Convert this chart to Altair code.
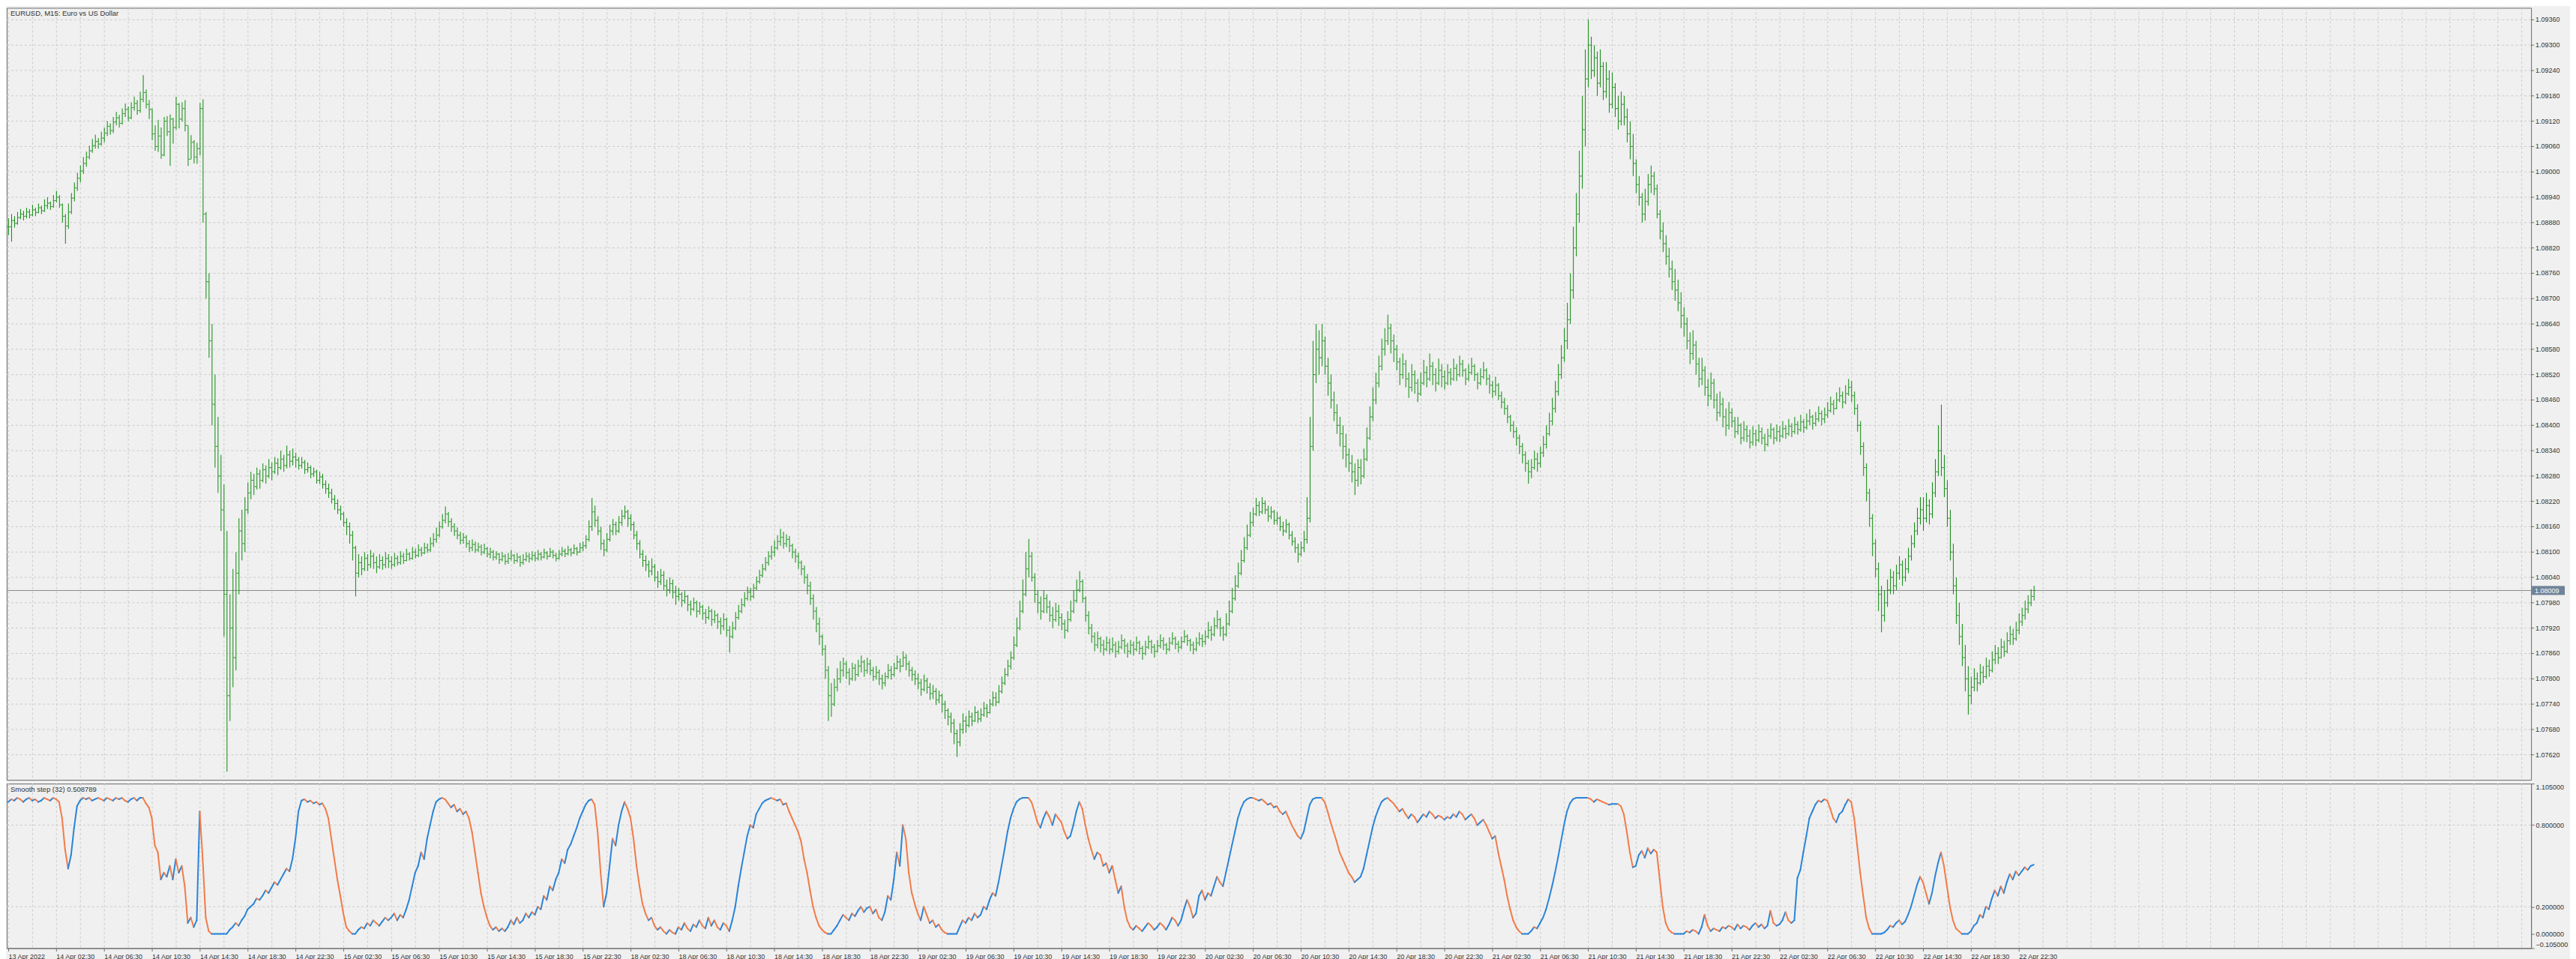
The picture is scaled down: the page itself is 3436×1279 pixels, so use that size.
import json
import altair as alt
import pandas as pd

# ---------------- data ----------------
# EURUSD M15 bars from 13 Apr 2022 22:30; prices in points (1e-5) above 1.07000
BASE = 1.07
CLOSE_PTS = [
1870,1885,1878,1892,1900,1895,1905,1898,1910,1904,1915,1908,1920,1926,1918,1932,
1940,1922,1895,1872,1905,1938,1962,1985,2002,2020,2035,2050,2062,2072,2066,2080,
2092,2108,2098,2118,2128,2115,2138,2148,2128,2152,2162,2145,2172,2188,2160,2148,
2090,2060,2085,2040,2120,2095,2125,2105,2160,2125,2150,2110,2030,2070,2035,2055,
2150,1900,1740,1600,1450,1350,1280,1200,1000,760,920,850,1050,1150,1120,1200,
1240,1270,1255,1285,1270,1295,1280,1300,1290,1310,1300,1320,1305,1330,1315,1325,
1318,1305,1312,1295,1300,1285,1290,1270,1278,1260,1250,1240,1225,1215,1200,1190,
1170,1160,1140,1110,1050,1075,1060,1085,1070,1090,1075,1065,1080,1070,1085,1078,
1070,1085,1075,1090,1080,1095,1085,1100,1092,1105,1098,1110,1105,1120,1130,1140,
1160,1175,1190,1172,1160,1150,1140,1128,1135,1120,1110,1118,1105,1112,1100,1108,
1095,1100,1088,1095,1082,1090,1078,1085,1092,1080,1088,1075,1082,1090,1085,1092,
1085,1095,1088,1098,1090,1100,1092,1085,1095,1102,1096,1105,1098,1108,1100,1110,
1115,1130,1160,1195,1175,1150,1120,1105,1130,1150,1165,1150,1170,1185,1195,1180,
1165,1140,1120,1095,1080,1070,1055,1065,1040,1030,1045,1020,1010,1025,1005,995,
1000,985,995,975,965,980,960,970,955,945,960,940,950,935,925,940,
915,900,920,945,960,975,990,1005,995,1015,1030,1045,1060,1075,1090,1100,
1110,1125,1135,1120,1130,1115,1100,1090,1075,1060,1040,1020,990,960,930,900,
870,820,760,740,780,800,820,835,815,800,825,810,830,840,820,835,
820,805,815,800,790,805,820,810,825,840,830,850,835,820,810,800,
790,775,795,780,765,770,750,760,740,725,710,695,670,650,680,700,
690,710,700,720,705,715,730,720,740,755,745,770,790,810,830,850,
880,920,960,1000,1060,1090,1040,1000,980,960,990,970,950,940,960,945,
930,915,940,960,985,1010,1030,990,950,920,900,880,895,880,870,885,
870,880,865,875,890,878,865,880,870,885,872,860,875,888,875,865,
878,890,880,870,885,895,882,875,888,900,890,880,870,885,895,888,
900,915,905,925,940,920,905,930,960,990,1020,1050,1080,1110,1140,1170,
1190,1210,1195,1215,1200,1185,1195,1175,1180,1160,1150,1165,1140,1125,1110,1095,
1110,1130,1180,1350,1520,1580,1560,1600,1540,1500,1460,1430,1400,1380,1350,1330,
1310,1290,1270,1300,1280,1320,1370,1420,1460,1500,1540,1580,1600,1630,1600,1580,
1550,1520,1545,1510,1490,1520,1500,1475,1500,1525,1510,1540,1520,1500,1530,1515,
1500,1525,1510,1535,1520,1545,1530,1510,1525,1540,1520,1500,1515,1530,1510,1495,
1480,1495,1470,1455,1440,1420,1400,1385,1370,1350,1330,1310,1290,1300,1320,1310,
1335,1355,1380,1410,1440,1480,1520,1560,1600,1650,1720,1820,1900,1990,2100,2220,
2300,2240,2270,2210,2250,2190,2220,2160,2200,2150,2120,2160,2130,2090,2060,2020,
1970,1940,1900,1930,1970,1990,1960,1900,1860,1830,1800,1770,1740,1720,1690,1660,
1640,1600,1570,1590,1545,1510,1530,1490,1470,1500,1460,1430,1450,1420,1400,1430,
1410,1385,1400,1370,1390,1375,1360,1380,1365,1385,1370,1355,1375,1390,1370,1385,
1375,1392,1380,1398,1385,1402,1390,1408,1395,1410,1420,1405,1415,1428,1415,1425,
1435,1450,1440,1460,1470,1455,1475,1490,1470,1440,1400,1350,1300,1240,1180,1120,
1060,1000,950,980,1010,1040,1020,1050,1070,1040,1060,1090,1120,1150,1180,1200,
1180,1210,1190,1240,1290,1340,1300,1250,1180,1100,1020,950,900,850,800,760,
780,800,790,815,805,830,820,845,860,850,875,865,890,905,895,915,
935,950,965,980,995,1009,
]
HIGH_PTS = [
1890,1900,1895,1905,1912,1908,1915,1912,1922,1915,1925,1920,1935,1940,1930,1945,
1955,1945,1925,1900,1925,1950,1975,1998,2015,2035,2048,2062,2078,2088,2080,2095,
2105,2120,2115,2130,2142,2135,2150,2162,2155,2165,2178,2170,2190,2229,2195,2170,
2150,2110,2123,2105,2130,2132,2136,2128,2178,2163,2165,2170,2110,2087,2075,2069,
2163,2172,1905,1760,1640,1520,1420,1330,1260,1150,1000,1060,1100,1180,1200,1230,
1265,1290,1285,1300,1295,1310,1305,1320,1312,1325,1322,1340,1330,1352,1340,1345,
1335,1325,1325,1318,1312,1305,1300,1295,1290,1285,1270,1262,1250,1235,1225,1210,
1195,1180,1170,1150,1115,1095,1090,1100,1095,1105,1098,1090,1095,1090,1100,1095,
1090,1098,1092,1102,1098,1108,1100,1112,1108,1118,1112,1122,1120,1135,1145,1158,
1172,1190,1208,1195,1180,1168,1158,1148,1145,1140,1128,1130,1125,1122,1118,1120,
1112,1110,1105,1102,1098,1100,1095,1098,1105,1095,1098,1092,1095,1100,1098,1102,
1100,1105,1100,1108,1102,1110,1105,1098,1105,1112,1108,1115,1110,1118,1112,1122,
1125,1140,1175,1228,1210,1185,1160,1130,1145,1165,1178,1172,1185,1200,1210,1200,
1190,1172,1150,1128,1105,1092,1080,1085,1072,1055,1060,1055,1035,1040,1035,1020,
1015,1005,1008,998,985,992,985,982,975,965,972,965,962,955,945,955,
945,925,935,958,975,990,1005,1018,1015,1025,1042,1058,1072,1088,1102,1115,
1128,1140,1155,1148,1142,1138,1120,1108,1098,1080,1068,1048,1030,1000,970,945,
905,880,830,790,800,825,842,850,842,825,838,835,845,855,845,850,
845,828,830,822,810,815,835,830,838,855,848,865,858,842,828,820,
812,800,810,802,790,785,778,772,765,748,730,720,705,680,695,718,
712,725,720,735,725,730,745,740,752,770,768,785,805,825,845,865,
900,945,985,1035,1100,1131,1100,1050,1010,995,1010,1000,985,970,980,975,
955,940,960,985,1010,1035,1055,1035,995,960,930,910,912,900,892,900,
895,898,888,890,905,895,885,892,888,900,890,878,890,902,892,882,
892,905,898,885,898,910,900,890,900,915,905,895,888,898,910,905,
915,935,925,945,962,945,925,955,985,1015,1045,1075,1105,1135,1165,1195,
1205,1228,1220,1230,1222,1210,1208,1200,1195,1185,1172,1178,1170,1150,1135,1120,
1125,1150,1230,1420,1600,1640,1625,1640,1610,1560,1520,1480,1450,1420,1400,1380,
1345,1330,1310,1320,1320,1345,1395,1445,1490,1525,1565,1605,1630,1662,1640,1615,
1590,1560,1570,1555,1525,1545,1530,1510,1525,1555,1540,1570,1550,1535,1558,1545,
1530,1545,1535,1558,1545,1565,1555,1535,1545,1560,1545,1525,1535,1550,1535,1520,
1505,1515,1500,1480,1465,1448,1425,1410,1395,1378,1358,1338,1318,1320,1340,1335,
1350,1375,1400,1430,1465,1505,1545,1590,1630,1690,1760,1870,1950,2050,2180,2290,
2361,2320,2300,2285,2290,2260,2260,2240,2235,2210,2180,2190,2180,2150,2120,2090,
2030,1990,1950,1960,1995,2015,2000,1970,1910,1880,1850,1820,1790,1770,1745,1715,
1680,1655,1620,1625,1600,1560,1560,1540,1510,1525,1510,1475,1480,1465,1440,1455,
1440,1420,1420,1405,1410,1400,1390,1398,1390,1402,1395,1380,1392,1405,1395,1402,
1398,1410,1400,1415,1405,1420,1410,1425,1415,1428,1438,1425,1432,1445,1435,1442,
1455,1468,1460,1478,1490,1480,1495,1510,1505,1480,1450,1410,1360,1310,1250,1190,
1130,1075,1020,1010,1035,1060,1055,1070,1090,1080,1085,1110,1140,1170,1205,1230,
1230,1240,1225,1265,1320,1400,1449,1330,1270,1200,1120,1040,980,930,880,830,
805,825,815,835,830,850,845,865,880,875,895,890,910,925,918,935,
955,968,985,998,1012,1020,
]
LOW_PTS = [
1850,1835,1868,1875,1888,1885,1890,1890,1895,1895,1902,1900,1905,1912,1910,1915,
1928,1915,1880,1830,1865,1900,1930,1955,1975,1995,2012,2030,2045,2055,2055,2062,
2070,2085,2088,2092,2110,2105,2112,2130,2120,2125,2145,2135,2140,2165,2150,2125,
2075,2050,2047,2031,2037,2085,2014,2067,2100,2103,2119,2096,2014,2030,2020,2019,
2039,1880,1700,1560,1400,1300,1240,1150,900,580,700,780,820,1000,1080,1100,
1190,1225,1235,1248,1250,1265,1262,1275,1270,1285,1282,1295,1290,1298,1300,1305,
1300,1295,1298,1285,1288,1275,1278,1262,1262,1250,1238,1228,1215,1200,1190,1175,
1160,1140,1120,1080,995,1040,1045,1055,1055,1062,1060,1050,1060,1058,1062,1062,
1060,1065,1068,1070,1072,1078,1080,1082,1085,1088,1090,1095,1098,1100,1112,1122,
1135,1155,1168,1160,1148,1138,1130,1118,1120,1110,1100,1102,1098,1100,1092,1095,
1088,1085,1080,1082,1072,1078,1070,1072,1080,1072,1075,1065,1070,1078,1075,1080,
1078,1080,1080,1085,1082,1088,1085,1078,1082,1090,1088,1092,1090,1095,1092,1098,
1102,1108,1125,1150,1160,1140,1105,1090,1100,1125,1140,1140,1145,1162,1178,1160,
1150,1130,1105,1085,1065,1055,1040,1045,1030,1015,1022,1010,995,1002,990,975,
985,970,978,960,950,960,945,952,940,930,940,925,932,918,905,915,
900,862,895,915,940,955,970,985,985,990,1010,1025,1040,1055,1068,1082,
1090,1105,1115,1108,1112,1100,1085,1075,1060,1045,1025,1000,975,940,910,880,
855,800,700,710,735,770,790,805,800,785,795,795,805,815,805,812,
808,795,798,785,775,782,800,798,805,822,815,828,820,805,795,785,
775,760,770,765,750,752,738,742,720,705,690,672,645,615,640,670,
672,685,688,698,695,698,710,708,718,735,735,742,765,785,805,822,
845,875,915,955,995,1040,1030,980,955,940,955,955,935,920,935,925,
915,895,910,935,955,980,1005,980,935,905,885,865,872,862,855,865,
858,862,850,858,870,860,850,858,855,865,858,845,855,870,860,850,
862,872,868,858,865,880,870,862,870,885,878,865,858,865,878,875,
880,895,890,900,918,900,890,900,925,955,985,1015,1045,1075,1105,1135,
1160,1185,1185,1190,1190,1172,1178,1165,1165,1150,1138,1145,1130,1115,1098,1075,
1090,1100,1120,1170,1340,1500,1520,1540,1520,1470,1440,1410,1380,1350,1320,1300,
1290,1265,1235,1255,1260,1275,1315,1365,1410,1450,1490,1530,1565,1590,1570,1550,
1530,1495,1510,1490,1465,1480,1475,1455,1470,1495,1490,1505,1495,1480,1495,1490,
1485,1495,1495,1505,1505,1515,1515,1495,1505,1520,1505,1485,1495,1510,1495,1475,
1465,1470,1460,1440,1425,1405,1385,1370,1352,1332,1310,1290,1262,1275,1295,1290,
1300,1325,1345,1375,1400,1430,1470,1510,1550,1580,1640,1700,1800,1880,1960,2060,
2200,2220,2225,2180,2200,2170,2175,2140,2150,2130,2100,2110,2110,2070,2030,1990,
1950,1920,1880,1885,1920,1950,1945,1890,1840,1810,1780,1750,1720,1695,1670,1630,
1610,1580,1545,1555,1520,1490,1495,1470,1445,1460,1440,1410,1420,1395,1375,1390,
1395,1370,1378,1355,1362,1360,1345,1352,1350,1360,1355,1338,1350,1368,1355,1362,
1360,1370,1368,1375,1372,1380,1378,1385,1382,1390,1400,1390,1398,1408,1400,1405,
1418,1430,1425,1438,1455,1440,1450,1470,1455,1425,1385,1330,1280,1220,1160,1090,
1040,960,910,935,970,1000,1000,1010,1035,1020,1030,1050,1080,1110,1140,1165,
1150,1170,1165,1180,1230,1280,1280,1230,1160,1080,1000,930,880,830,770,715,
740,770,770,785,790,800,805,815,835,835,848,852,860,880,880,890,
905,925,940,955,972,985,
]
# "Smooth step (32)" indicator, one value per bar
IND = [
0.97,0.99,0.98,1.0,0.99,0.97,0.99,1.0,0.98,0.99,0.97,0.98,1.0,0.99,0.98,1.0,
0.99,0.97,0.85,0.62,0.48,0.58,0.78,0.94,0.98,1.0,0.99,1.0,0.98,0.99,1.0,0.99,
0.98,1.0,0.99,0.98,1.0,0.99,1.0,0.98,0.97,0.99,1.0,0.98,1.0,1.0,0.96,0.93,
0.85,0.65,0.6,0.4,0.45,0.42,0.5,0.4,0.55,0.45,0.5,0.35,0.08,0.12,0.05,0.1,
0.9,0.55,0.12,0.02,0.0,0.0,0.0,0.0,0.0,0.0,0.03,0.05,0.08,0.06,0.1,0.13,
0.18,0.2,0.22,0.26,0.25,0.28,0.32,0.3,0.34,0.38,0.36,0.4,0.44,0.48,0.46,0.55,
0.7,0.9,0.98,0.99,0.97,0.98,0.96,0.97,0.95,0.96,0.92,0.85,0.7,0.55,0.4,0.28,
0.15,0.05,0.02,0.0,0.0,0.03,0.05,0.04,0.08,0.06,0.1,0.08,0.06,0.09,0.12,0.1,
0.12,0.15,0.1,0.14,0.12,0.18,0.25,0.35,0.45,0.5,0.6,0.55,0.7,0.8,0.9,0.97,
0.99,1.0,0.99,0.96,0.93,0.95,0.9,0.92,0.88,0.9,0.85,0.75,0.6,0.45,0.3,0.2,
0.12,0.06,0.03,0.05,0.02,0.04,0.02,0.05,0.1,0.07,0.12,0.08,0.1,0.15,0.12,0.16,
0.14,0.2,0.18,0.28,0.25,0.35,0.32,0.4,0.45,0.55,0.52,0.62,0.66,0.72,0.78,0.85,
0.9,0.95,0.98,0.99,0.95,0.75,0.45,0.2,0.3,0.5,0.7,0.65,0.8,0.9,0.97,0.92,
0.85,0.7,0.5,0.35,0.22,0.15,0.1,0.12,0.06,0.03,0.05,0.02,0.0,0.03,0.01,0.0,
0.05,0.03,0.08,0.04,0.02,0.07,0.05,0.1,0.06,0.04,0.12,0.06,0.1,0.05,0.03,0.08,
0.06,0.02,0.1,0.2,0.35,0.48,0.6,0.72,0.8,0.78,0.88,0.92,0.96,0.98,0.99,1.0,
0.99,0.98,0.99,0.95,0.96,0.9,0.85,0.8,0.75,0.68,0.55,0.45,0.32,0.2,0.12,0.06,
0.03,0.01,0.0,0.0,0.03,0.06,0.1,0.14,0.12,0.1,0.15,0.13,0.17,0.2,0.16,0.19,
0.2,0.15,0.18,0.12,0.1,0.16,0.28,0.25,0.4,0.6,0.5,0.8,0.7,0.45,0.3,0.22,
0.15,0.1,0.2,0.14,0.08,0.1,0.05,0.07,0.03,0.01,0.0,0.0,0.0,0.0,0.05,0.1,
0.08,0.12,0.1,0.15,0.12,0.14,0.2,0.18,0.25,0.3,0.28,0.38,0.5,0.62,0.75,0.85,
0.92,0.97,0.99,1.0,1.0,1.0,0.97,0.9,0.82,0.78,0.85,0.9,0.86,0.8,0.88,0.85,
0.82,0.75,0.7,0.72,0.8,0.9,0.97,0.92,0.8,0.7,0.62,0.55,0.6,0.58,0.5,0.52,
0.45,0.5,0.4,0.3,0.35,0.2,0.1,0.05,0.03,0.06,0.04,0.02,0.05,0.08,0.06,0.03,
0.05,0.08,0.06,0.03,0.07,0.12,0.1,0.06,0.1,0.18,0.25,0.2,0.12,0.15,0.28,0.32,
0.25,0.3,0.28,0.35,0.42,0.38,0.35,0.45,0.55,0.65,0.75,0.85,0.92,0.97,0.99,1.0,
1.0,0.99,0.98,0.99,0.97,0.95,0.96,0.93,0.94,0.9,0.88,0.9,0.85,0.8,0.76,0.72,
0.7,0.75,0.85,0.95,0.99,1.0,1.0,1.0,0.97,0.9,0.82,0.75,0.68,0.6,0.55,0.5,
0.45,0.42,0.38,0.4,0.42,0.48,0.58,0.68,0.78,0.86,0.92,0.97,0.99,1.0,0.98,0.96,
0.93,0.9,0.92,0.88,0.85,0.88,0.86,0.82,0.85,0.88,0.86,0.9,0.88,0.85,0.87,0.86,
0.84,0.86,0.85,0.88,0.86,0.9,0.88,0.84,0.86,0.88,0.85,0.8,0.82,0.84,0.8,0.75,
0.7,0.72,0.6,0.5,0.4,0.28,0.18,0.1,0.05,0.02,0.0,0.0,0.0,0.02,0.05,0.04,
0.08,0.12,0.18,0.26,0.35,0.45,0.56,0.68,0.8,0.9,0.96,0.99,1.0,1.0,1.0,1.0,
1.0,0.99,0.97,0.99,0.98,0.97,0.96,0.95,0.955,0.955,0.955,0.94,0.88,0.75,0.6,0.49,
0.5,0.58,0.61,0.56,0.63,0.59,0.62,0.6,0.4,0.2,0.08,0.03,0.01,0.0,0.0,0.0,
0.0,0.02,0.01,0.03,0.02,0.0,0.05,0.14,0.06,0.02,0.04,0.03,0.02,0.05,0.04,0.06,
0.05,0.03,0.07,0.04,0.06,0.05,0.03,0.06,0.08,0.05,0.07,0.04,0.06,0.17,0.08,0.06,
0.07,0.1,0.16,0.1,0.08,0.1,0.41,0.47,0.6,0.72,0.85,0.9,0.95,0.98,0.97,0.99,
0.98,0.92,0.85,0.82,0.88,0.9,0.95,0.99,0.97,0.85,0.65,0.45,0.28,0.12,0.04,0.0,
0.0,0.0,0.0,0.01,0.03,0.06,0.05,0.08,0.1,0.07,0.09,0.14,0.2,0.28,0.36,0.42,
0.38,0.3,0.22,0.3,0.42,0.52,0.6,0.5,0.35,0.2,0.1,0.04,0.02,0.0,0.0,0.0,
0.02,0.06,0.08,0.14,0.12,0.2,0.18,0.26,0.32,0.28,0.35,0.3,0.38,0.44,0.4,0.46,
0.43,0.46,0.49,0.47,0.5,0.508789,
]

X_LABELS = ["13 Apr 2022",
 "14 Apr 02:30","14 Apr 06:30","14 Apr 10:30","14 Apr 14:30","14 Apr 18:30","14 Apr 22:30",
 "15 Apr 02:30","15 Apr 06:30","15 Apr 10:30","15 Apr 14:30","15 Apr 18:30","15 Apr 22:30",
 "18 Apr 02:30","18 Apr 06:30","18 Apr 10:30","18 Apr 14:30","18 Apr 18:30","18 Apr 22:30",
 "19 Apr 02:30","19 Apr 06:30","19 Apr 10:30","19 Apr 14:30","19 Apr 18:30","19 Apr 22:30",
 "20 Apr 02:30","20 Apr 06:30","20 Apr 10:30","20 Apr 14:30","20 Apr 18:30","20 Apr 22:30",
 "21 Apr 02:30","21 Apr 06:30","21 Apr 10:30","21 Apr 14:30","21 Apr 18:30","21 Apr 22:30",
 "22 Apr 02:30","22 Apr 06:30","22 Apr 10:30","22 Apr 14:30","22 Apr 18:30","22 Apr 22:30"]
PRICE_TICKS = [1.07620,1.07680,1.07740,1.07800,1.07860,1.07920,1.07980,1.08040,1.08100,
 1.08160,1.08220,1.08280,1.08340,1.08400,1.08460,1.08520,1.08580,1.08640,1.08700,1.08760,
 1.08820,1.08880,1.08940,1.09000,1.09060,1.09120,1.09180,1.09240,1.09300,1.09360]
IND_TICKS = [-0.105, 0.0, 0.2, 0.8, 1.105]
IND_LEVELS = [0.2, 0.8]
LAST_PRICE = 1.08009
TITLE_MAIN = "EURUSD, M15:  Euro vs US Dollar"
TITLE_IND = "Smooth step (32) 0.508789"

# ---------------- tables ----------------
n = len(CLOSE_PTS)
close = [round(BASE + c / 1e5, 5) for c in CLOSE_PTS]
high = [round(BASE + c / 1e5, 5) for c in HIGH_PTS]
low = [round(BASE + c / 1e5, 5) for c in LOW_PTS]
opn = [close[0]] + close[:-1]          # each M15 bar opens at the previous close
bars = pd.DataFrame({"i": range(n), "open": opn, "high": high, "low": low, "close": close})

seg = pd.DataFrame({"i": list(range(n - 1)), "i2": list(range(1, n)),
                    "v": IND[:-1], "v2": IND[1:],
                    "dir": ["up" if IND[j + 1] >= IND[j] else "down" for j in range(n - 1)]})
pticks = pd.DataFrame({"p": PRICE_TICKS, "t": [f"{p:.5f}" for p in PRICE_TICKS]})

W = 3375
H_MAIN = 1032
H_IND = 220
FONT = "Liberation Sans"
TXT = "#333333"
GRID = "#cbcbcb"
AX = "#6e6e6e"
GREEN = "#0b8a0b"

xs = alt.Scale(domain=[-0.5, 843.25], nice=False, zero=False)
ys = alt.Scale(domain=[1.075607, 1.093883], nice=False, zero=False)
yi = alt.Scale(domain=[-0.105, 1.105], nice=False, zero=False)

gridx = pd.DataFrame({"g": list(range(0, 844, 8))})

# ---- main (price) panel; its right-hand price scale is drawn from PRICE_TICKS ----
hgrid = alt.Chart(pticks).mark_rule(color=GRID, strokeDash=[3, 3], strokeWidth=1).encode(
    y=alt.Y("p:Q", scale=ys, axis=None), x=alt.value(0), x2=alt.value(W))
vgrid_main = alt.Chart(gridx).mark_rule(color=GRID, strokeDash=[3, 3], strokeWidth=1, xOffset=0.5).encode(
    x=alt.X("g:Q", scale=xs, axis=None))
ptick = alt.Chart(pticks).mark_rule(color=AX, strokeWidth=1).encode(
    y=alt.Y("p:Q", scale=ys, axis=None), x=alt.value(W), x2=alt.value(W + 4))
plab = alt.Chart(pticks).mark_text(font=FONT, fontSize=9, color=TXT, align="left", baseline="middle").encode(
    y=alt.Y("p:Q", scale=ys, axis=None), x=alt.value(W + 6), text="t:N")

hl = alt.Chart(bars).mark_rule(color=GREEN, strokeWidth=1, xOffset=0.5).encode(
    x=alt.X("i:Q", scale=xs, axis=None),
    y=alt.Y("low:Q", scale=ys, axis=None), y2="high:Q")
op = alt.Chart(bars).mark_tick(color=GREEN, orient="horizontal", size=2, thickness=1, xOffset=-1).encode(
    x=alt.X("i:Q", scale=xs, axis=None), y=alt.Y("open:Q", scale=ys, axis=None))
cl = alt.Chart(bars).mark_tick(color=GREEN, orient="horizontal", size=2, thickness=1, xOffset=2).encode(
    x=alt.X("i:Q", scale=xs, axis=None), y=alt.Y("close:Q", scale=ys, axis=None))

lastp = pd.DataFrame({"p": [LAST_PRICE], "t": [f"{LAST_PRICE:.5f}"]})
pline = alt.Chart(lastp).mark_rule(color="#8c8c8c", strokeWidth=1).encode(
    y=alt.Y("p:Q", scale=ys, axis=None), x=alt.value(0), x2=alt.value(W))
ptag = alt.Chart(lastp).mark_rule(color="#6f8297", strokeWidth=12, strokeCap="butt").encode(
    y=alt.Y("p:Q", scale=ys, axis=None), x=alt.value(W + 1), x2=alt.value(W + 45))
ptext = alt.Chart(lastp).mark_text(color="white", font=FONT, fontSize=9, align="left", baseline="middle").encode(
    y=alt.Y("p:Q", scale=ys, axis=None), x=alt.value(W + 5), text="t:N")
ttl = alt.Chart(pd.DataFrame({"t": [TITLE_MAIN]})).mark_text(
    font=FONT, fontSize=9.5, color=TXT, align="left", baseline="top").encode(
    x=alt.value(5), y=alt.value(3), text="t:N")

main = alt.layer(hgrid, vgrid_main, ptick, plab, pline, hl, op, cl, ptag, ptext, ttl).properties(
    width=W, height=H_MAIN)

# ---- indicator panel ----
vgrid_ind = alt.Chart(gridx).mark_rule(color=GRID, strokeDash=[3, 3], strokeWidth=1, xOffset=0.5).encode(
    x=alt.X("g:Q", scale=xs, title=None,
            axis=alt.Axis(values=list(range(0, 673, 16)),
                          labelExpr=json.dumps(X_LABELS) + "[round(datum.value/16)]",
                          labelAlign="left", labelPadding=3, tickSize=4, tickColor=AX,
                          domainColor=AX, labelFont=FONT, labelFontSize=9, labelColor=TXT,
                          labelOverlap=False, labelBound=False, grid=False)))
lev = alt.Chart(pd.DataFrame({"l": IND_LEVELS})).mark_rule(color=GRID, strokeDash=[3, 3], strokeWidth=1).encode(
    y=alt.Y("l:Q", scale=yi, title=None,
            axis=alt.Axis(orient="right", values=IND_TICKS, format=".6f", grid=False, tickSize=4,
                          tickColor=AX, domainColor=AX, labelFont=FONT, labelFontSize=9,
                          labelColor=TXT, labelPadding=2, labelFlush=True, labelOverlap=False)),
    x=alt.value(0), x2=alt.value(W))
line = alt.Chart(seg).mark_rule(strokeWidth=2, strokeCap="round").encode(
    x=alt.X("i:Q", scale=xs, title=None), x2="i2:Q",
    y=alt.Y("v:Q", scale=yi, title=None), y2="v2:Q",
    color=alt.Color("dir:N", scale=alt.Scale(domain=["up", "down"], range=["#2a84d8", "#f27b48"]), legend=None))
ttl2 = alt.Chart(pd.DataFrame({"t": [TITLE_IND]})).mark_text(
    font=FONT, fontSize=9.5, color=TXT, align="left", baseline="top").encode(
    x=alt.value(5), y=alt.value(3), text="t:N")

indp = alt.layer(vgrid_ind, lev, line, ttl2).properties(width=W, height=H_IND)

chart = alt.vconcat(main, indp, spacing=3).properties(
    background="#f0f0f0", padding={"left": 0, "top": 0, "right": 0, "bottom": 0}
).configure_view(stroke="#6b6b6b", strokeWidth=1, fill="#f0f0f0"
).configure_axis(labelOverlap=False, labelBound=False, labelFont=FONT, labelFontSize=9,
                 labelColor=TXT, tickColor=AX, domainColor=AX, tickSize=4
).configure_concat(spacing=3)

chart.save("out.html", embed_options={"renderer": "svg", "actions": False})
